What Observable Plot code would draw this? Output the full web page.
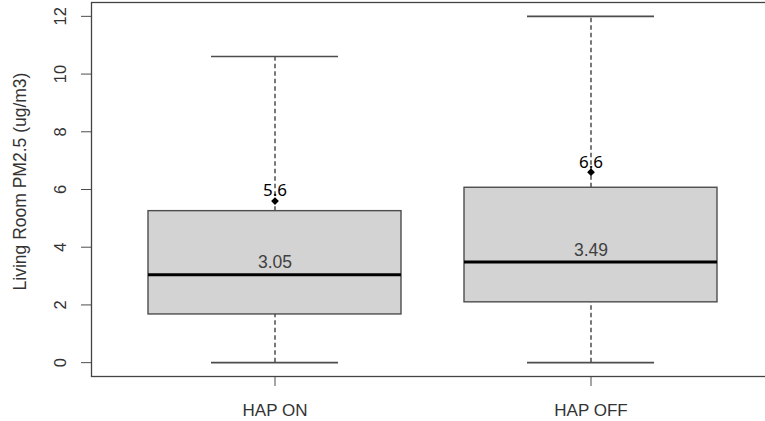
<!DOCTYPE html>
<html><head><meta charset="utf-8">
<script src="https://cdn.jsdelivr.net/npm/d3@7"></script>
<script src="https://cdn.jsdelivr.net/npm/@observablehq/plot@0.6"></script>
<style>
html,body{margin:0;padding:0;background:#fff;overflow:hidden;}
#chart svg{overflow:hidden;display:block;}
</style></head><body><div id="chart"></div>
<script>
const groups = ["HAP ON", "HAP OFF"];
const lowerWhisker = [0, 0];
const q1 = [1.67, 2.09];
const median = [3.05, 3.49];
const q3 = [5.25, 6.06];
const upperWhisker = [10.61, 12];
const mean = [5.6, 6.6];
const medianLabels = ["3.05", "3.49"];
const meanLabels = ["5.6", "6.6"];
const yTicks = [0, 2, 4, 6, 8, 10, 12];
const yTitle = "Living Room PM2.5 (ug/m3)";

const data = groups.map((g, i) => ({
  group: g, lo: lowerWhisker[i], q1: q1[i], med: median[i], q3: q3[i],
  hi: upperWhisker[i], mean: mean[i], medLabel: medianLabels[i], meanLabel: meanLabels[i]
}));

const gray = "#4d4d4d";
const chart = Plot.plot({
  width: 765, height: 421,
  marginTop: 2, marginBottom: 45, marginLeft: 91, marginRight: -9,
  style: {fontFamily: "'Liberation Sans', Arial, sans-serif", fontSize: "17px", color: "#333", background: "#fff"},
  x: {type: "band", domain: groups, paddingInner: 0.2, paddingOuter: 0.18, label: null},
  y: {domain: [-0.48, 12.48], label: null},
  marks: [
    Plot.ruleX(data, {x: "group", y1: "q3", y2: "hi", stroke: gray, strokeWidth: 1.5, strokeDasharray: "4.5,3"}),
    Plot.ruleX(data, {x: "group", y1: "lo", y2: "q1", stroke: gray, strokeWidth: 1.5, strokeDasharray: "4.5,3"}),
    Plot.tickY(data, {x: "group", y: "hi", insetLeft: 63, insetRight: 63, stroke: gray, strokeWidth: 1.6}),
    Plot.tickY(data, {x: "group", y: "lo", insetLeft: 63, insetRight: 63, stroke: gray, strokeWidth: 1.6}),
    Plot.barY(data, {x: "group", y1: "q1", y2: "q3", fill: "#d3d3d3", stroke: gray, strokeWidth: 1.4}),
    Plot.tickY(data, {x: "group", y: "med", stroke: "#000", strokeWidth: 3}),
    Plot.text(data, {x: "group", y: "med", text: "medLabel", dy: -12, fill: "#404040", fontSize: 17.5}),
    Plot.dot(data, {x: "group", y: "mean", symbol: "diamond2", r: 3.5, fill: "#000", stroke: "none"}),
    Plot.text(data, {x: "group", y: "mean", text: "meanLabel", dy: -10, fill: "#000", fontFamily: "'Noto Sans', sans-serif", fontSize: 17}),
    Plot.axisX({tickSize: 10, tickPadding: 17, stroke: gray, fontSize: 17}),
    Plot.axisY(yTicks, {tickSize: 10, tickRotate: -90, tickPadding: 16, stroke: gray, fontSize: 16.5}),
    Plot.text([yTitle], {text: d => d, frameAnchor: "left", textAnchor: "middle", rotate: -90, dx: -71, dy: -8, fontSize: 17.5}),
    Plot.frame({stroke: "#444", strokeWidth: 1.3})
  ]
});
document.getElementById("chart").appendChild(chart);
</script></body></html>
